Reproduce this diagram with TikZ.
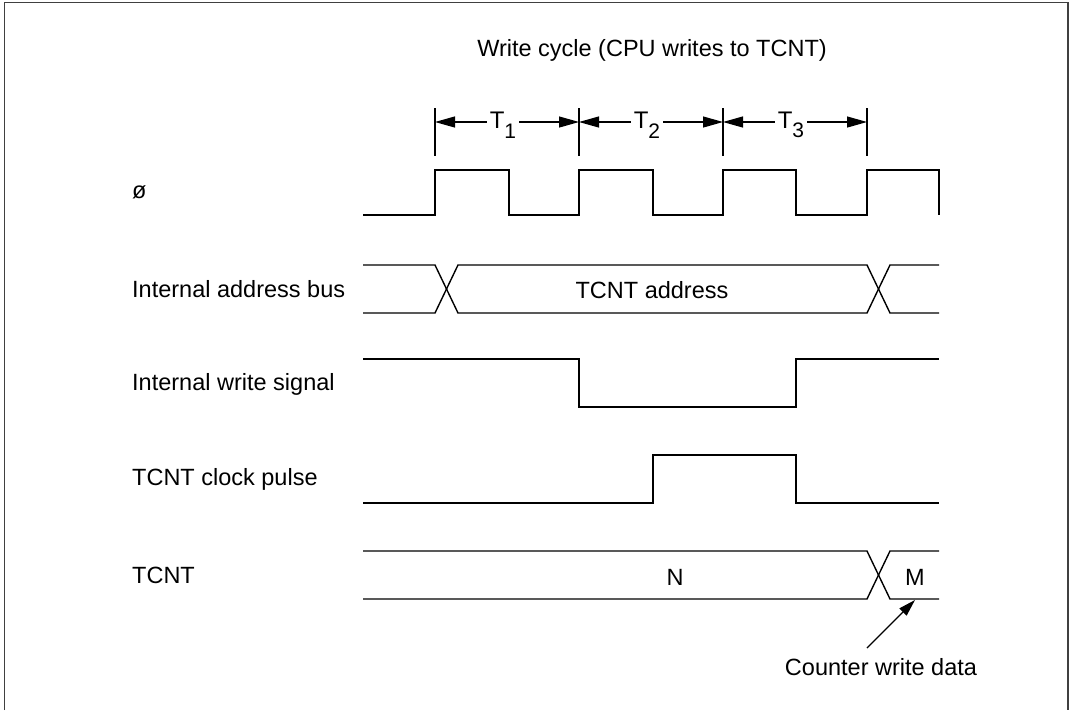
\documentclass[tikz,border=0pt]{standalone}
\usepackage{fontspec}
\setmainfont{Liberation Sans}
\usetikzlibrary{arrows.meta}
\tikzset{
  wave/.style={line width=1.4pt, black},
  frameline/.style={line width=1.6pt, black!75},
  tick/.style={line width=1.2pt, black},
  dimarrow/.style={line width=1.2pt, -{Triangle[length=20pt,width=11pt]}},
  ptrarrow/.style={line width=1.2pt, -{Triangle[length=17pt,width=10pt]}},
  lbl/.style={font=\fontsize{23.5}{28}\selectfont, inner sep=1pt},
  tlbl/.style={font=\fontsize{24}{28}\selectfont, inner xsep=3pt, inner ysep=1pt},
}
\newcommand{\tsub}[1]{T\raisebox{-0.4em}{\fontsize{21}{24}\selectfont #1}}
\begin{document}
\begin{tikzpicture}[x=1pt,y=-1pt]
\useasboundingbox (0,0) rectangle (1074,710);
% frame
\draw[frameline] (4.5,710) -- (4.5,2.5) -- (1068,2.5) -- (1068,710);

% title
\node[lbl] (title) at (652,50) {Write cycle (CPU writes to TCNT)};

% cycle ticks
\foreach \n/\x in {0/435,1/579,2/723,3/867}{
  \coordinate (tt\n) at (\x,108);
  \coordinate (tb\n) at (\x,156);
  \coordinate (ta\n) at (\x,122);
  \draw[tick] (tt\n) -- (tb\n);
}
\node[tlbl] (T1) at (503,125) {\tsub{1}};
\node[tlbl] (T2) at (647,125) {\tsub{2}};
\node[tlbl] (T3) at (791,125) {\tsub{3}};
\draw[dimarrow] (T1.west |- ta0) -- (ta0);
\draw[dimarrow] (T1.east |- ta0) -- (ta1);
\draw[dimarrow] (T2.west |- ta0) -- (ta1);
\draw[dimarrow] (T2.east |- ta0) -- (ta2);
\draw[dimarrow] (T3.west |- ta0) -- (ta2);
\draw[dimarrow] (T3.east |- ta0) -- (ta3);

% signal names
\node[lbl, anchor=west] (phi) at (131,192) {ø};
\node[lbl, anchor=west] (addr) at (131,289) {Internal address bus};
\node[lbl, anchor=west] (wr) at (131,384) {Internal write signal};
\node[lbl, anchor=west] (clk) at (131,479) {TCNT clock pulse};
\node[lbl, anchor=west] (tcnt) at (131,575) {TCNT};

% clock
\draw[wave] (363,215) -| (435,170) -| (509,215) -| (579,170) -| (653,215)
  -| (723,170) -| (796,215) -| (867,170) -- (939,170) -- (939,215);

% address bus
\draw[wave] (363,265) -- (435,265) -- (458,313) -- (867,313) -- (890,265) -- (939,265);
\draw[wave] (363,313) -- (435,313) -- (458,265) -- (867,265) -- (890,313) -- (939,313);
\node[lbl] (addrtxt) at (652,290) {TCNT address};

% write signal
\draw[wave] (363,359) -| (579,407) -| (796,359) -- (939,359);

% clock pulse
\draw[wave] (363,503) -| (653,455) -| (796,503) -- (939,503);

% TCNT
\draw[wave] (363,551) -- (867,551) -- (890,599) -- (939,599);
\draw[wave] (363,599) -- (867,599) -- (890,551) -- (939,551);
\node[lbl] (N) at (675,577) {N};
\node[lbl] (M) at (915,577) {M};
\coordinate (mbot) at (915,600);

% pointer
\node[lbl] (cwd) at (881,667) {Counter write data};
\coordinate (pstart) at (867,648);
\draw[ptrarrow] (pstart) -- (mbot);
\end{tikzpicture}
\end{document}
